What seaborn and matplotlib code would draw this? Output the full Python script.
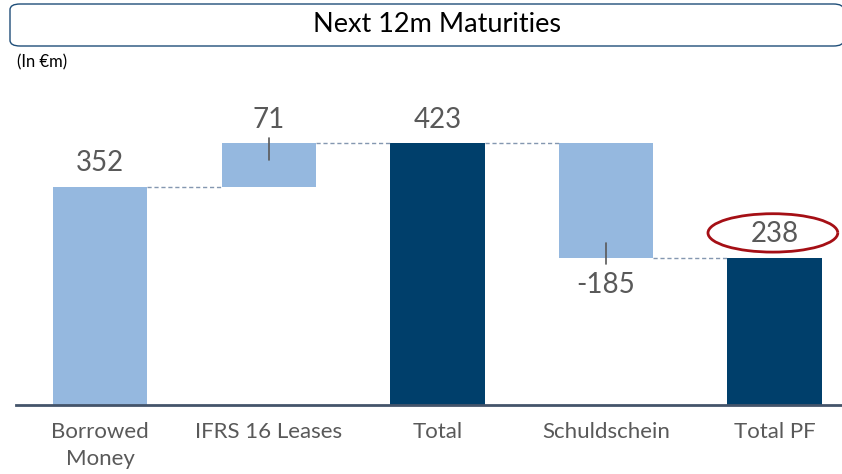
import numpy as np
import pandas as pd
import matplotlib
matplotlib.use("Agg")
import matplotlib.pyplot as plt
import seaborn as sns
from matplotlib.patches import FancyBboxPatch, Arc

categories = ["Borrowed\nMoney", "IFRS 16 Leases", "Total", "Schuldschein", "Total PF"]
values = [352, 71, 423, -185, 238]
kinds = ["delta", "delta", "total", "delta", "total"]

LIGHT = "#95B8DF"
DARK = "#003F6B"
GREY = "#595959"

# waterfall geometry: start/end of each bar
bottoms, heights = [], []
run = 0
for v, k in zip(values, kinds):
    if k == "total":
        bottoms.append(0)
        heights.append(v)
        run = v
    else:
        bottoms.append(run)
        heights.append(v)
        run += v

df = pd.DataFrame({"cat": categories, "height": heights})
colors = {c: (DARK if k == "total" else LIGHT) for c, k in zip(categories, kinds)}

sns.set_style("white")
plt.rcParams["font.family"] = ["Lato", "DejaVu Sans"]

fig = plt.figure(figsize=(8.42, 4.74), dpi=100)
ax = fig.add_axes([16 / 842, (474 - 405) / 474, 1 - 16 / 842, (405 - 80) / 474])

sns.barplot(data=df, x="cat", y="height", hue="cat", palette=colors, legend=False,
            width=0.56, saturation=1, ax=ax)

# move bars onto their waterfall base
for p, b, h in zip(ax.patches, bottoms, heights):
    p.set_y(b)
    p.set_height(h)
    p.set_edgecolor("none")

ax.set_xlim(-0.5, 4.4)
ax.set_ylim(0, 525)

# connectors
half = 0.28
for i in range(len(values) - 1):
    level = bottoms[i] + heights[i]
    ax.plot([i + half, i + 1 - half], [level, level], ls=(0, (3, 2)),
            color="#8497B0", lw=1)

# value labels
for i, (v, b, h, k) in enumerate(zip(values, bottoms, heights, kinds)):
    top = max(b, b + h)
    low = min(b, b + h)
    if v < 0:
        ax.annotate(f"{v}", (i, low), xytext=(0, -20), textcoords="offset points",
                    ha="center", va="center", fontsize=20, color=GREY)
        ax.plot([i, i], [low - 10, low + 24], color=GREY, lw=1.2)
    else:
        ax.annotate(f"{v}", (i, top), xytext=(0, 17), textcoords="offset points",
                    ha="center", va="center", fontsize=20, color=GREY)
        if k == "delta" and i > 0:
            ax.plot([i, i], [top + 8, top - 27], color=GREY, lw=1.2)

# highlight around Total PF value
ax.add_patch(Arc((3.99, 278), 0.77, 62, angle=0, theta1=25, theta2=345,
                 color="#A50F15", lw=2, clip_on=False))

for s in ["left", "right", "top"]:
    ax.spines[s].set_visible(False)
ax.spines["bottom"].set_color("#44546A")
ax.spines["bottom"].set_linewidth(2)
ax.set_yticks([])
ax.set_xlabel("")
ax.set_ylabel("")
ax.tick_params(axis="x", length=0, pad=12, labelsize=16, labelcolor=GREY)
for t in ax.get_xticklabels():
    t.set_linespacing(1.45)

# title box
fig.patches.append(FancyBboxPatch((10 / 842, 1 - 46 / 474), 0.99, 42 / 474,
                                  boxstyle="round,pad=0,rounding_size=0.012",
                                  transform=fig.transFigure, facecolor="white",
                                  edgecolor="#1F4E79", lw=1))
fig.text(437 / 842, 1 - 25 / 474, "Next 12m Maturities", ha="center", va="center",
         fontsize=19.5, color="black")
fig.text(17 / 842, 1 - 62 / 474, "(In €m)", ha="left", va="center",
         fontsize=12, color="black")

fig.savefig("out.png", dpi=100)
